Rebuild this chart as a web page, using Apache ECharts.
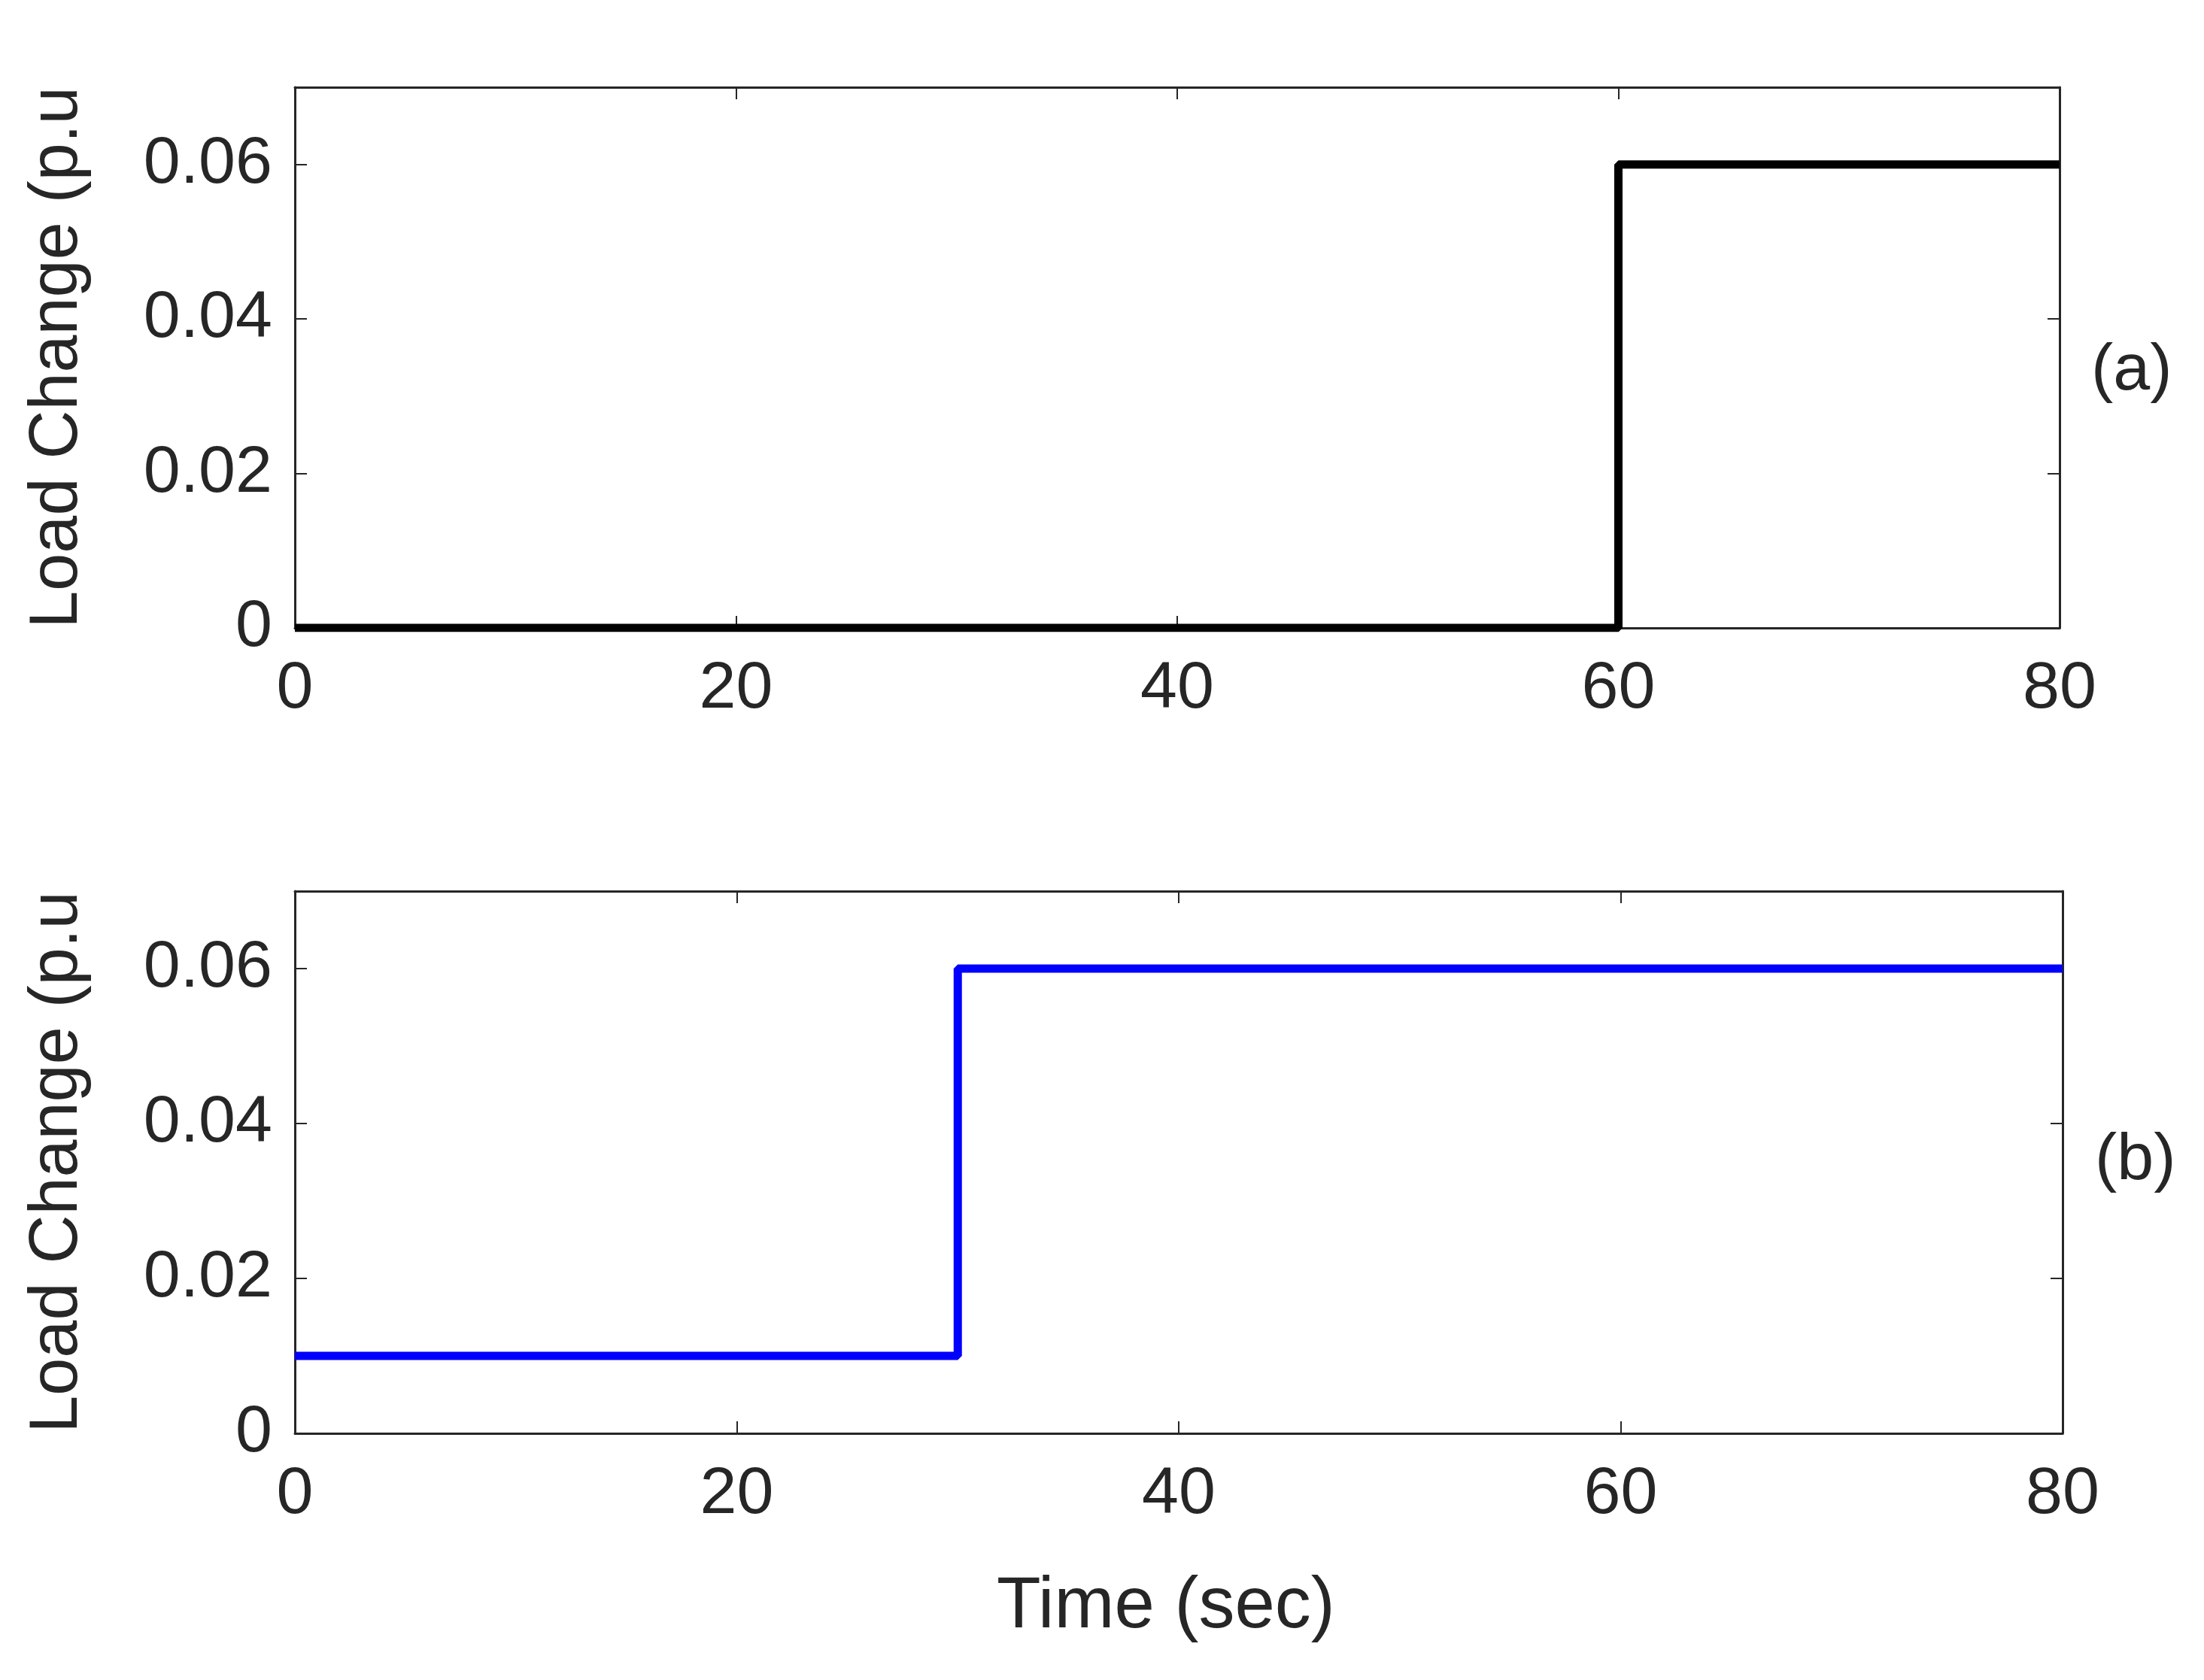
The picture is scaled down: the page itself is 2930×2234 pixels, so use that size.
<!DOCTYPE html>
<html><head><meta charset="utf-8">
<script src="https://cdn.jsdelivr.net/npm/echarts@6/dist/echarts.min.js"></script>
<style>html,body{margin:0;background:#fff}#c{width:2930px;height:2234px}</style>
</head><body><div id="c"></div>
<script>
// step data: [time, load change]
var seriesA = [[0, 0], [60, 0.06], [80, 0.06]];
var seriesB = [[0, 0.01], [30, 0.06], [80, 0.06]];
var yTicks = [0, 0.02, 0.04, 0.06];
var panelLabels = ['(a)', '(b)'];

var txt = '#262626';
var font = 'Liberation Sans';
var grids = [
  {left: 392, right: 192, top: 116, height: 719},
  {left: 392, right: 188, top: 1185, height: 721}
];

function yLabel(v) {
  if (yTicks.indexOf(Math.round(v * 100) / 100) < 0) return '';
  return v === 0 ? '0' : v.toFixed(2);
}

var line = {onZero: false, lineStyle: {color: txt, width: 3}};
var tick = {inside: true, length: 16, lineStyle: {color: txt, width: 2}};

var xAxes = [], yAxes = [];
grids.forEach(function (g, i) {
  xAxes.push({gridIndex: i, type: 'value', min: 0, max: 80, interval: 20, position: 'bottom',
    axisLine: line, axisTick: tick,
    axisLabel: {color: txt, fontSize: 88, fontFamily: font, margin: 38},
    splitLine: {show: false}});
  xAxes.push({gridIndex: i, type: 'value', min: 0, max: 80, interval: 20, position: 'top',
    axisLine: line, axisTick: tick,
    axisLabel: {show: false}, splitLine: {show: false}});
  yAxes.push({gridIndex: i, type: 'value', min: 0, max: 0.07, interval: 0.01, position: 'left',
    name: 'Load Change (p.u', nameLocation: 'middle', nameGap: 270,
    nameTextStyle: {color: txt, fontSize: 90, fontFamily: font},
    axisLine: line, axisTick: {show: false},
    axisLabel: {color: txt, fontSize: 88, fontFamily: font, margin: 30, formatter: yLabel},
    splitLine: {show: false}});
  yAxes.push({gridIndex: i, type: 'value', min: 0, max: 0.07, interval: 0.02, position: 'right',
    axisLine: line, axisTick: tick,
    axisLabel: {show: false}, splitLine: {show: false}});
  yAxes.push({gridIndex: i, type: 'value', min: 0, max: 0.07, interval: 0.02, position: 'left',
    axisLine: {show: false}, axisTick: tick,
    axisLabel: {show: false}, splitLine: {show: false}});
});

var chart = echarts.init(document.getElementById('c'));
chart.setOption({
  backgroundColor: '#fff',
  animation: false,
  grid: grids,
  xAxis: xAxes,
  yAxis: yAxes,
  graphic: [
    {type: 'text', left: 2780, top: 450, style: {text: panelLabels[0], fill: txt, font: '88px "Liberation Sans"'}},
    {type: 'text', left: 2785, top: 1500, style: {text: panelLabels[1], fill: txt, font: '88px "Liberation Sans"'}},
    {type: 'text', left: 1325, top: 2090, style: {text: 'Time (sec)', fill: txt, font: '96px "Liberation Sans"'}}
  ],
  series: [
    {type: 'line', xAxisIndex: 0, yAxisIndex: 0, data: seriesA, step: 'end', symbol: 'none',
      lineStyle: {color: '#000', width: 11}},
    {type: 'line', xAxisIndex: 2, yAxisIndex: 3, data: seriesB, step: 'end', symbol: 'none',
      lineStyle: {color: '#0000ff', width: 11}}
  ]
});
</script></body></html>
